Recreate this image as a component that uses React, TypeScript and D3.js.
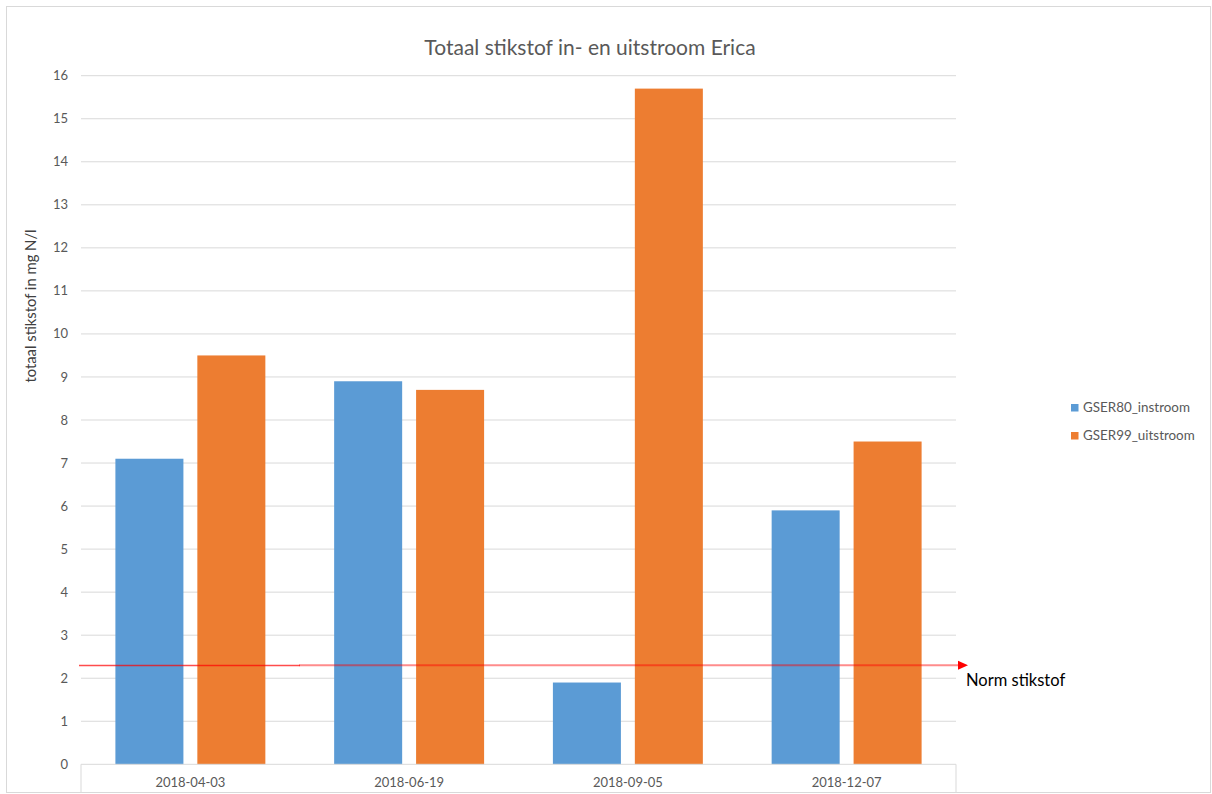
import React from "react";
import * as d3 from "d3";

const categories = ["2018-04-03", "2018-06-19", "2018-09-05", "2018-12-07"];
const seriesNames = ["GSER80_instroom", "GSER99_uitstroom"];
const instroom = [7.1, 8.9, 1.9, 5.9];
const uitstroom = [9.5, 8.7, 15.7, 7.5];
const yTicks = d3.range(0, 17, 1);
const normValue = 2.3;
const normLabel = "Norm stikstof";
const title = "Totaal stikstof in- en uitstroom Erica";
const yLabel = "totaal stikstof in mg N/l";

const colors = ["#5b9bd5", "#ed7d31"];
const FONT = "Lato, 'Open Sans', sans-serif";

export default function App() {
  const W = 1212;
  const H = 794;
  const left = 81;
  const right = 956;
  const top = 75.7;
  const bottom = 764.3;

  const x = d3.scaleBand<string>().domain(categories).range([left, right]).paddingInner(0).paddingOuter(0);
  const inner = d3
    .scaleBand<string>()
    .domain(seriesNames)
    .range([34.4, x.bandwidth() - 34.4])
    .paddingInner(0.17);
  const y = d3.scaleLinear().domain([0, 16]).range([bottom, top]);

  const series = [instroom, uitstroom];
  const yn = y(normValue);
  const lineStart = left - 2;
  const lineEnd = right + 2;

  return (
    <svg
      width={W}
      height={H}
      style={{ position: "absolute", left: 0, top: 0, background: "#fff" }}
      fontFamily={FONT}
    >
      <rect x={6.5} y={6.5} width={1204} height={786} fill="#fff" stroke="#d9d9d9" strokeWidth={1} />
      <text x={590} y={55} textAnchor="middle" fontSize={21} fill="#595959">
        {title}
      </text>

      {yTicks.map((t) => (
        <g key={t}>
          {t > 0 && (
            <line x1={left} x2={right} y1={y(t)} y2={y(t)} stroke="#d9d9d9" strokeWidth={1} />
          )}
          <text x={68} y={y(t)} dy="0.35em" textAnchor="end" fontSize={13} fill="#595959">
            {t}
          </text>
        </g>
      ))}

      <text
        transform={`translate(36, 306) rotate(-90)`}
        textAnchor="middle"
        fontSize={14.8}
        fill="#404040"
      >
        {yLabel}
      </text>

      {categories.map((c, i) => (
        <g key={c}>
          {series.map((s, j) => (
            <rect
              key={j}
              x={(x(c) as number) + (inner(seriesNames[j]) as number)}
              y={y(s[i])}
              width={inner.bandwidth()}
              height={y(0) - y(s[i])}
              fill={colors[j]}
            />
          ))}
          <text
            x={(x(c) as number) + x.bandwidth() / 2}
            y={787}
            textAnchor="middle"
            fontSize={13}
            fill="#595959"
          >
            {c}
          </text>
        </g>
      ))}

      <line x1={left} x2={right} y1={bottom} y2={bottom} stroke="#d9d9d9" strokeWidth={1} />
      <line x1={left} x2={left} y1={bottom} y2={793} stroke="#d9d9d9" strokeWidth={1} />
      <line x1={right} x2={right} y1={bottom} y2={793} stroke="#d9d9d9" strokeWidth={1} />

      <line x1={lineStart} x2={300} y1={yn + 0.3} y2={yn + 0.3} stroke="#ff0000" strokeOpacity={0.7} strokeWidth={1.5} />
      <line x1={299} x2={lineEnd} y1={yn} y2={yn} stroke="#ff0000" strokeOpacity={0.45} strokeWidth={2} />
      <path
        d={`M${lineEnd},${yn - 4.5} L${lineEnd + 10},${yn} L${lineEnd},${yn + 4.5} Z`}
        fill="#ff0000"
      />
      <text x={966} y={686} fontSize={16.5} fill="#000">
        {normLabel}
      </text>

      {seriesNames.map((n, j) => (
        <g key={n} transform={`translate(1071, ${404 + j * 28})`}>
          <rect x={0} y={0} width={7.5} height={7.5} fill={colors[j]} />
          <text x={12} y={8} fontSize={13.4} fill="#595959">
            {n}
          </text>
        </g>
      ))}
    </svg>
  );
}
